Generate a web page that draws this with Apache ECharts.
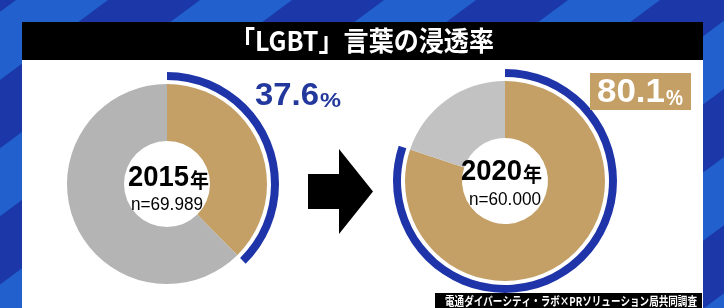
<!DOCTYPE html>
<html><head><meta charset="utf-8">
<script src="https://cdn.jsdelivr.net/npm/echarts@6/dist/echarts.min.js"></script>
<style>html,body{margin:0;padding:0;background:#fff}#c{width:724px;height:308px}</style>
</head><body><div id="c"></div>
<script>
// ---- data ----
const titleText = '「LGBT」言葉の浸透率';
const years = ['2015', '2020'];
const yearSuffix = '年';
const samples = ['n=69.989', 'n=60.000'];
const aware = [37.6, 80.1];
const unaware = [62.4, 19.9];
const sourceText = '電通ダイバーシティ・ラボ×PRソリューション局共同調査';

// ---- styles ----
const TAN = '#c49f66', BLUE = '#1e34a8', BLUE_TXT = '#23389c';
const GRAYS = ['#b4b4b4', '#c2c2c2'];
const centers = [[167, 184], [505, 181]];
const NUM_FONT = '"Liberation Sans", Arial, sans-serif';
const JP_FONT = '"Noto Sans CJK JP", sans-serif';

const mctx = document.createElement('canvas').getContext('2d');
function fit(text, font, target) {
  mctx.font = font;
  const w = mctx.measureText(text).width;
  return w > 0 ? target / w : 1;
}

const chart = echarts.init(document.getElementById('c'), null, {renderer: 'canvas'});

const series = [];
years.forEach((y, i) => {
  series.push({
    type: 'pie', center: centers[i], radius: [43, 100], startAngle: 90, clockwise: true,
    silent: true, label: {show: false}, labelLine: {show: false}, emphasis: {disabled: true},
    itemStyle: {borderWidth: 0}, z: 5,
    data: [
      {name: 'aware', value: aware[i], itemStyle: {color: TAN}},
      {name: 'unaware', value: unaware[i], itemStyle: {color: GRAYS[i]}}
    ]
  });
  series.push({
    type: 'pie', center: centers[i], radius: [104, 112], startAngle: 90, clockwise: true,
    silent: true, label: {show: false}, labelLine: {show: false}, emphasis: {disabled: true},
    itemStyle: {borderWidth: 0}, z: 5,
    data: [
      {name: 'aware', value: aware[i], itemStyle: {color: BLUE}},
      {name: 'rest', value: unaware[i], itemStyle: {color: 'rgba(0,0,0,0)'}}
    ]
  });
});

const els = [];
function txt(x, y, text, font, fill, align, targetW) {
  const e = {type: 'text', z: 50, x: x, y: y, style: {text: text, fill: fill, font: font, textAlign: align, textVerticalAlign: 'middle'}};
  if (targetW) e.scaleX = fit(text, font, targetW);
  els.push(e);
}
// background stripes
els.push({type: 'rect', z: -10, shape: {x: 0, y: 0, width: 724, height: 308}, style: {fill: '#2160cd'}});
const K = 1.35;
for (let n = -6; n <= 10; n += 2) {
  const c0 = 108 + 92 * n, c1 = c0 + 92;
  els.push({type: 'polygon', z: -9, shape: {points: [[c0, 0], [c1, 0], [c1 - K * 308, 308], [c0 - K * 308, 308]]}, style: {fill: '#1c37a8'}});
}
// panel + title bar
els.push({type: 'rect', z: -5, shape: {x: 22, y: 22, width: 681, height: 290}, style: {fill: '#ffffff'}});
els.push({type: 'rect', z: -4, shape: {x: 22, y: 22, width: 681, height: 38}, style: {fill: '#000000'}});
txt(362, 41, titleText, 'bold 27px ' + JP_FONT, '#fff', 'center', 264);
// arrow
els.push({type: 'polygon', z: 10, shape: {points: [[308, 174], [339, 174], [339, 149], [373, 191.5], [339, 234], [339, 209], [308, 209]]}, style: {fill: '#000'}});
// percent labels
txt(319, 96, String(aware[0]), 'bold 31px ' + NUM_FONT, BLUE_TXT, 'right', 64);
txt(320, 101, '%', 'bold 21px ' + NUM_FONT, BLUE_TXT, 'left', 21);
els.push({type: 'rect', z: 40, shape: {x: 590, y: 73, width: 101, height: 37}, style: {fill: TAN}});
txt(665, 93, String(aware[1]), 'bold 34px ' + NUM_FONT, '#fff', 'right', 68);
txt(666, 99, '%', 'bold 22px ' + NUM_FONT, '#fff', 'left', 17);
// center labels
const yearPos = [[189, 178, 205], [522, 172, 200]];
years.forEach((y, i) => {
  const cx = centers[i][0], p = yearPos[i];
  txt(p[0], p[1], y, 'bold 30px ' + NUM_FONT, '#000', 'right', 61);
  txt(p[0] + 1, p[1] + 2, yearSuffix, 'bold 20px ' + JP_FONT, '#000', 'left', 19);
  txt(cx, p[2], samples[i], '500 18px ' + NUM_FONT, '#000', 'center', 72);
});
// source
els.push({type: 'rect', z: 40, shape: {x: 435, y: 293, width: 267, height: 16}, style: {fill: '#000'}});
txt(571, 301.5, sourceText, 'bold 12px ' + JP_FONT, '#fff', 'center', 252);

chart.setOption({
  animation: false,
  backgroundColor: '#ffffff',
  graphic: {elements: els},
  series: series
});
</script></body></html>
